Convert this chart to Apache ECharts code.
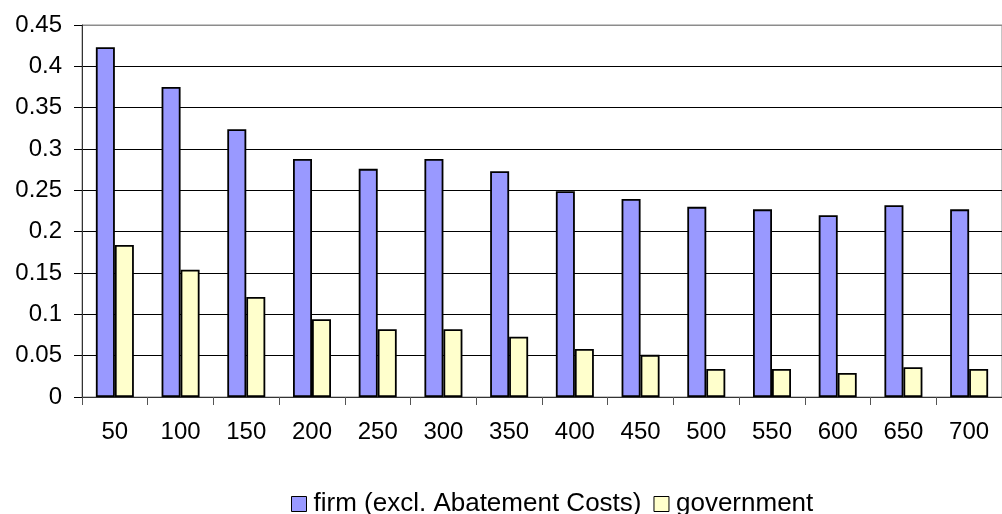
<!DOCTYPE html>
<html>
<head>
<meta charset="utf-8">
<script src="https://cdn.jsdelivr.net/npm/echarts@6/dist/echarts.min.js"></script>
<style>
  html, body { margin: 0; padding: 0; background: #fff; }
  #chart { width: 1002px; height: 514px; }
</style>
</head>
<body>
<div id="chart"></div>
<script>
// Cost shares by quantity level
const categories = ['50', '100', '150', '200', '250', '300', '350', '400', '450', '500', '550', '600', '650', '700'];
const firmValues = [0.423, 0.375, 0.324, 0.288, 0.276, 0.288, 0.273, 0.249, 0.2395, 0.23, 0.227, 0.22, 0.232, 0.227];
const governmentValues = [0.184, 0.154, 0.121, 0.094, 0.082, 0.082, 0.073, 0.058, 0.051, 0.034, 0.034, 0.029, 0.036, 0.034];
const seriesNames = ['firm (excl. Abatement Costs)', 'government'];
const yTicks = [0, 0.05, 0.1, 0.15, 0.2, 0.25, 0.3, 0.35, 0.4, 0.45];

const FONT = "'Liberation Sans', Arial, sans-serif";

const chart = echarts.init(document.getElementById('chart'), null, { renderer: 'canvas' });

// grid lines are black, except the top edge of the plot frame which is grey
const splitColors = yTicks.map((t, i) => (i === yTicks.length - 1 ? '#8c8c8c' : '#000000'));

chart.setOption({
  animation: false,
  backgroundColor: '#ffffff',
  grid: {
    left: 82,
    top: 25,
    right: -6,
    bottom: 117,
    show: true,
    borderColor: '#8c8c8c',
    borderWidth: 1
  },
  legend: {
    data: seriesNames,
    left: 286,
    top: 486,
    itemWidth: 15,
    itemHeight: 15,
    itemGap: 12,
    icon: 'rect',
    textStyle: { fontFamily: FONT, fontSize: 26, color: '#000', padding: [0, 0, 0, 2] },
    itemStyle: { borderColor: '#000', borderWidth: 1 }
  },
  xAxis: {
    type: 'category',
    data: categories,
    boundaryGap: true,
    axisLine: { lineStyle: { color: '#333', width: 1 } },
    axisTick: { show: true, length: 8, inside: false, lineStyle: { color: '#555' } },
    axisLabel: { fontFamily: FONT, fontSize: 24, color: '#000', margin: 23, interval: 0 },
    splitLine: { show: false }
  },
  yAxis: {
    type: 'value',
    min: 0,
    max: 0.45,
    interval: 0.05,
    axisLine: { show: true, lineStyle: { color: '#333', width: 1 } },
    axisTick: { show: true, length: 8, lineStyle: { color: '#000' } },
    axisLabel: {
      fontFamily: FONT,
      fontSize: 24,
      color: '#000',
      margin: 20,
      formatter: v => {
        const t = yTicks.find(x => Math.abs(x - v) < 1e-9);
        return String(t !== undefined ? t : v);
      }
    },
    splitLine: { show: true, lineStyle: { color: splitColors, width: 1 } }
  },
  series: [
    {
      name: seriesNames[0],
      type: 'bar',
      data: firmValues,
      barWidth: 19,
      barGap: '0%',
      itemStyle: { color: '#9999ff', borderColor: '#000', borderWidth: 1.8 }
    },
    {
      name: seriesNames[1],
      type: 'bar',
      data: governmentValues,
      barWidth: 19,
      barGap: '0%',
      itemStyle: { color: '#ffffcc', borderColor: '#000', borderWidth: 1.8 }
    }
  ]
});
</script>
</body>
</html>
